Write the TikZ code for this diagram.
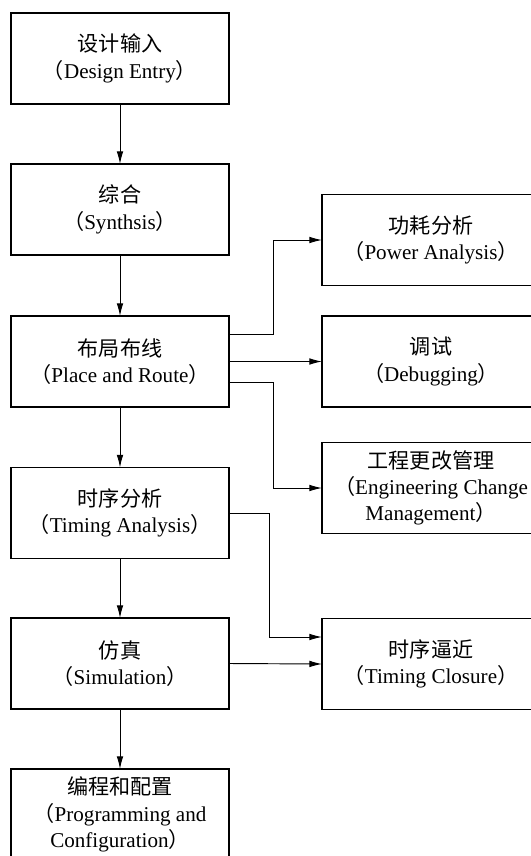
\documentclass[tikz,border=0pt]{standalone}
\usepackage{fontspec}
\setmainfont{Liberation Serif}
\newfontfamily\cjk{Noto Sans CJK SC}
\usepackage{tikz}
\usetikzlibrary{arrows.meta}
\tikzset{>={Latex[length=3.8mm, width=2mm]}}
\tikzset{box/.style={draw, line width=1pt, minimum width=6.54cm, minimum height=2.73cm, inner sep=0pt, outer sep=0pt, align=center, font=\fontsize{18}{22.5}\selectfont}}
\tikzset{link/.style={->, line width=0.8pt}}
\newcommand{\lp}{{\cjk （}}
\newcommand{\rp}{{\cjk ）}}

\begin{document}
\begin{tikzpicture}[x=0.03cm, y=-0.03cm]
                \useasboundingbox (0, 0) rectangle (531, 856);
                \clip (0, 0) rectangle (531, 856);
                \node[box] (design) at (120, 58.5) {{\cjk 设计输入}\\\lp Design Entry\rp};
                \node[box] (synth) at (120, 209.5) {{\cjk 综合}\\\lp Synthsis\rp};
                \node[box] (place) at (120, 361.5) {{\cjk 布局布线}\\\lp Place and Route\rp};
                \node[box] (timing) at (120, 513) {{\cjk 时序分析}\\\lp Timing Analysis\rp};
                \node[box] (sim) at (120, 663.5) {{\cjk 仿真}\\\lp Simulation\rp};
                \node[box] (prog) at (120, 814.5) {{\cjk 编程和配置}\\\lp Programming and\\Configuration\rp};
                \node[box] (power) at (431, 240) {{\cjk 功耗分析}\\\lp Power Analysis\rp};
                \node[box] (debug) at (431, 361.5) {{\cjk 调试}\\\lp Debugging\rp};
                \node[box] (ecm) at (431, 488) {{\cjk 工程更改管理}\\\lp Engineering Change\\Management\rp};
                \node[box] (closure) at (431, 664) {{\cjk 时序逼近}\\\lp Timing Closure\rp};
                \draw[link] (design) -- (synth);
                \draw[link] (synth) -- (place);
                \draw[link] (place) -- (timing);
                \draw[link] (timing) -- (sim);
                \draw[link] (sim) -- (prog);
                \draw[link] ([yshift=8.25mm]place.east) -- ++(44, 0) |- (power.west);
                \draw[link] (place.east) -- (debug.west);
                \draw[link] ([yshift=-6.15mm]place.east) -- ++(44, 0) |- (ecm.west);
                \draw[link] (timing.east) -- ++(40, 0) |- ([yshift=8.1mm]closure.west);
                \draw[link] (sim.east) -- (closure.west);
            \end{tikzpicture}
\end{document}
